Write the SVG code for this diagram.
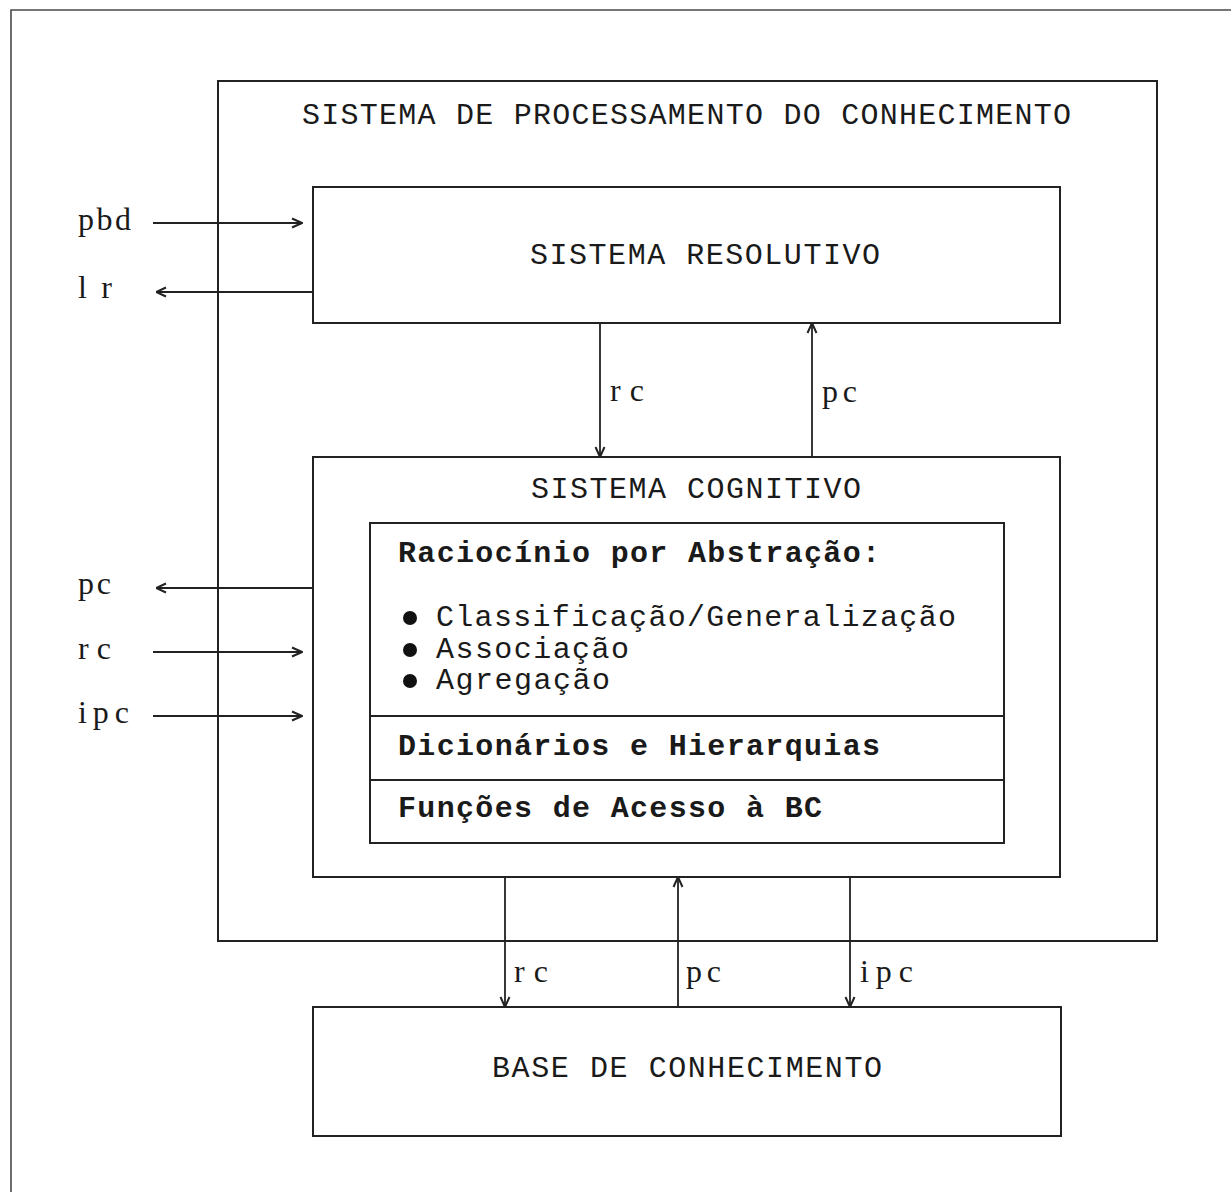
<svg xmlns="http://www.w3.org/2000/svg" width="1231" height="1192" viewBox="0 0 1231 1192">
  <style>
    .frame { fill: none; stroke: #4a4a4a; stroke-width: 1.6; }
    .box { fill: none; stroke: #222; stroke-width: 2; }
    .wire { fill: none; stroke: #222; stroke-width: 1.8; }
    .title { font-family: "Liberation Mono", "DejaVu Sans Mono", monospace; font-size: 30px; fill: #1a1a1a; }
    .body { font-family: "Liberation Mono", "DejaVu Sans Mono", monospace; font-size: 30px; fill: #1a1a1a; }
    .strong { font-weight: bold; }
    .lbl { font-family: "Liberation Serif", "DejaVu Serif", serif; font-size: 32px; fill: #1a1a1a; }
  </style>
  <defs>
    <marker id="head" viewBox="0 0 12 12" refX="11.5" refY="6" markerWidth="12" markerHeight="12" markerUnits="userSpaceOnUse" orient="auto">
      <path d="M1.5,1.5 L11.5,6 L1.5,10.5" fill="none" stroke="#222" stroke-width="2"/>
    </marker>
  </defs>

  <rect width="1231" height="1192" fill="#fff"/>

  <!-- page frame -->
  <g id="page-frame">
    <path class="frame" d="M11,1192 L11,10 L1231,10"/>
  </g>

  <!-- knowledge processing system -->
  <g id="node-spc">
    <rect class="box" x="218" y="81" width="939" height="860"/>
    <text class="title" x="302" y="124" textLength="769" lengthAdjust="spacing">SISTEMA DE PROCESSAMENTO DO CONHECIMENTO</text>
  </g>

  <!-- resolutive system -->
  <g id="node-resolutivo">
    <rect class="box" x="313" y="187" width="747" height="136"/>
    <text class="title" x="530" y="264" textLength="350" lengthAdjust="spacing">SISTEMA RESOLUTIVO</text>
  </g>

  <!-- cognitive system -->
  <g id="node-cognitivo">
    <rect class="box" x="313" y="457" width="747" height="420"/>
    <text class="title" x="531" y="498" textLength="330" lengthAdjust="spacing">SISTEMA COGNITIVO</text>
  </g>

  <!-- cognitive system components -->
  <g id="node-componentes">
    <rect class="box" x="370" y="523" width="634" height="320"/>
    <line class="box" x1="370" y1="716" x2="1004" y2="716"/>
    <line class="box" x1="370" y1="780" x2="1004" y2="780"/>
    <text class="body strong" x="398" y="562" textLength="482" lengthAdjust="spacing">Raciocínio por Abstração:</text>
    <circle cx="410" cy="618" r="7" fill="#111"/>
    <circle cx="410" cy="650" r="7" fill="#111"/>
    <circle cx="410" cy="681" r="7" fill="#111"/>
    <text class="body" x="436" y="626" textLength="520" lengthAdjust="spacing">Classificação/Generalização</text>
    <text class="body" x="436" y="658" textLength="193" lengthAdjust="spacing">Associação</text>
    <text class="body" x="436" y="689" textLength="174" lengthAdjust="spacing">Agregação</text>
    <text class="body strong" x="398" y="755" textLength="482" lengthAdjust="spacing">Dicionários e Hierarquias</text>
    <text class="body strong" x="398" y="817" textLength="424" lengthAdjust="spacing">Funções de Acesso à BC</text>
  </g>

  <!-- knowledge base -->
  <g id="node-bc">
    <rect class="box" x="313" y="1007" width="748" height="129"/>
    <text class="title" x="492" y="1077" textLength="390" lengthAdjust="spacing">BASE DE CONHECIMENTO</text>
  </g>

  <!-- connectors -->
  <g id="connectors">
    <!-- external inputs / outputs -->
    <line class="wire" x1="153" y1="223" x2="302" y2="223" marker-end="url(#head)"/>
    <line class="wire" x1="313" y1="292" x2="156" y2="292" marker-end="url(#head)"/>
    <line class="wire" x1="313" y1="588" x2="156" y2="588" marker-end="url(#head)"/>
    <line class="wire" x1="153" y1="652" x2="302" y2="652" marker-end="url(#head)"/>
    <line class="wire" x1="153" y1="716" x2="302" y2="716" marker-end="url(#head)"/>
    <!-- resolutive <-> cognitive -->
    <line class="wire" x1="600" y1="323" x2="600" y2="457" marker-end="url(#head)"/>
    <line class="wire" x1="812" y1="457" x2="812" y2="323" marker-end="url(#head)"/>
    <!-- cognitive <-> knowledge base -->
    <line class="wire" x1="505" y1="877" x2="505" y2="1007" marker-end="url(#head)"/>
    <line class="wire" x1="678" y1="1007" x2="678" y2="877" marker-end="url(#head)"/>
    <line class="wire" x1="850" y1="877" x2="850" y2="1007" marker-end="url(#head)"/>

    <text class="lbl" x="78" y="230" textLength="53" lengthAdjust="spacing">pbd</text>
    <text class="lbl" x="78" y="298" textLength="34" lengthAdjust="spacing">lr</text>
    <text class="lbl" x="78" y="594" textLength="33" lengthAdjust="spacing">pc</text>
    <text class="lbl" x="78" y="659" textLength="33" lengthAdjust="spacing">rc</text>
    <text class="lbl" x="78" y="723" textLength="51" lengthAdjust="spacing">ipc</text>
    <text class="lbl" x="610" y="401" textLength="34" lengthAdjust="spacing">rc</text>
    <text class="lbl" x="822" y="402" textLength="35" lengthAdjust="spacing">pc</text>
    <text class="lbl" x="514" y="982" textLength="34" lengthAdjust="spacing">rc</text>
    <text class="lbl" x="686" y="982" textLength="35" lengthAdjust="spacing">pc</text>
    <text class="lbl" x="860" y="982" textLength="53" lengthAdjust="spacing">ipc</text>
  </g>
</svg>
